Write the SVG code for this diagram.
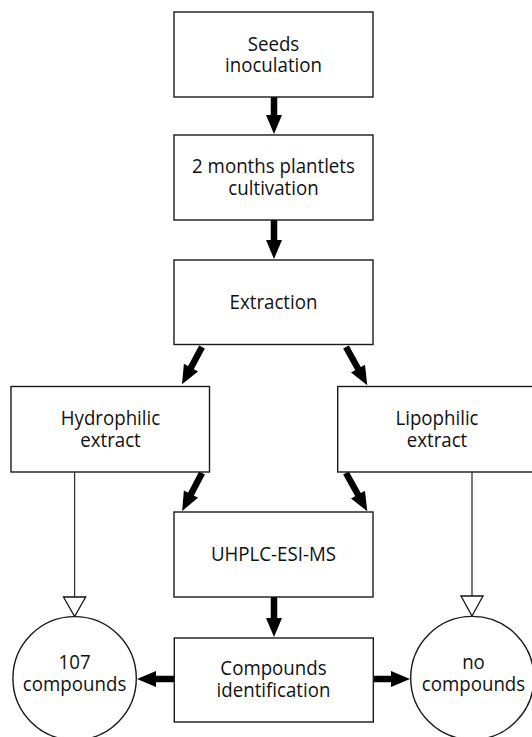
<svg xmlns="http://www.w3.org/2000/svg" width="532" height="737" viewBox="0 0 532 737">
<style>
.box{fill:#fff;stroke:#1a1a1a;stroke-width:1.4}
.t{font-family:"Open Sans","Noto Sans","DejaVu Sans",sans-serif;font-size:20.5px;fill:#111;text-anchor:middle}
.thick{stroke:#000;stroke-width:6.5;fill:none;marker-end:url(#head)}
.thin{stroke:#333;stroke-width:1.3;fill:none}
.open{fill:#fff;stroke:#111;stroke-width:1.3}
</style>
<defs>
<marker id="head" markerUnits="userSpaceOnUse" markerWidth="22" markerHeight="18" refX="1" refY="8" orient="auto" overflow="visible">
<path d="M0,0 L19,8 L0,16 z" fill="#000"/>
</marker>
</defs>
<g id="connectors">
<line class="thick" x1="274" y1="97" x2="274" y2="116"/>
<line class="thick" x1="274" y1="220" x2="274" y2="241"/>
<line class="thick" x1="202" y1="347" x2="190.5" y2="368.5"/>
<line class="thick" x1="346" y1="347" x2="358.5" y2="369.5"/>
<line class="thick" x1="202" y1="473" x2="190.5" y2="495"/>
<line class="thick" x1="346" y1="473" x2="358.5" y2="495.5"/>
<line class="thick" x1="274" y1="597" x2="274" y2="619"/>
<line class="thick" x1="174" y1="679" x2="155" y2="679"/>
<line class="thick" x1="373" y1="679" x2="392" y2="679"/>
<line class="thin" x1="74.6" y1="472" x2="74.6" y2="597"/>
<polygon class="open" points="63.5,597 85.7,597 74.6,616.5"/>
<line class="thin" x1="472" y1="472" x2="472" y2="596"/>
<polygon class="open" points="461,596 483,596 472,616"/>
</g>
<g id="seeds">
<rect class="box" x="174" y="12" width="199" height="85"/>
<g transform="translate(24.07,0) scale(0.912,1)">
<text class="t" x="273.5" y="51">Seeds</text>
<text class="t" x="273.5" y="72">inoculation</text>
</g>
</g>
<g id="cultivation">
<rect class="box" x="174" y="135" width="199" height="85"/>
<g transform="translate(24.07,0) scale(0.912,1)">
<text class="t" x="273.5" y="173">2 months plantlets</text>
<text class="t" x="273.5" y="195">cultivation</text>
</g>
</g>
<g id="extraction">
<rect class="box" x="174" y="260" width="199" height="84.5"/>
<g transform="translate(24.07,0) scale(0.912,1)">
<text class="t" x="273.5" y="309">Extraction</text>
</g>
</g>
<g id="hydrophilic">
<rect class="box" x="11" y="386.5" width="198.5" height="85.5"/>
<g transform="translate(9.72,0) scale(0.912,1)">
<text class="t" x="110.5" y="425">Hydrophilic</text>
<text class="t" x="110.5" y="447">extract</text>
</g>
</g>
<g id="lipophilic">
<rect class="box" x="337.7" y="386.5" width="199" height="85.5"/>
<g transform="translate(38.46,0) scale(0.912,1)">
<text class="t" x="437" y="425">Lipophilic</text>
<text class="t" x="437" y="447">extract</text>
</g>
</g>
<g id="uhplc">
<rect class="box" x="174" y="512" width="199" height="85"/>
<g transform="translate(24.07,0) scale(0.912,1)">
<text class="t" x="273.5" y="561">UHPLC-ESI-MS</text>
</g>
</g>
<g id="identification">
<rect class="box" x="174.3" y="638" width="199" height="84"/>
<g transform="translate(24.07,0) scale(0.912,1)">
<text class="t" x="273.5" y="675">Compounds</text>
<text class="t" x="273.5" y="697">identification</text>
</g>
</g>
<g id="c107">
<circle class="box" cx="74.6" cy="678.3" r="61.7"/>
<g transform="translate(6.56,0) scale(0.912,1)">
<text class="t" x="74.6" y="669">107</text>
<text class="t" x="74.6" y="691">compounds</text>
</g>
</g>
<g id="nocomp">
<circle class="box" cx="472.3" cy="678" r="61.6"/>
<g transform="translate(41.67,0) scale(0.912,1)">
<text class="t" x="473.5" y="669">no</text>
<text class="t" x="473.5" y="691">compounds</text>
</g>
</g>
</svg>
